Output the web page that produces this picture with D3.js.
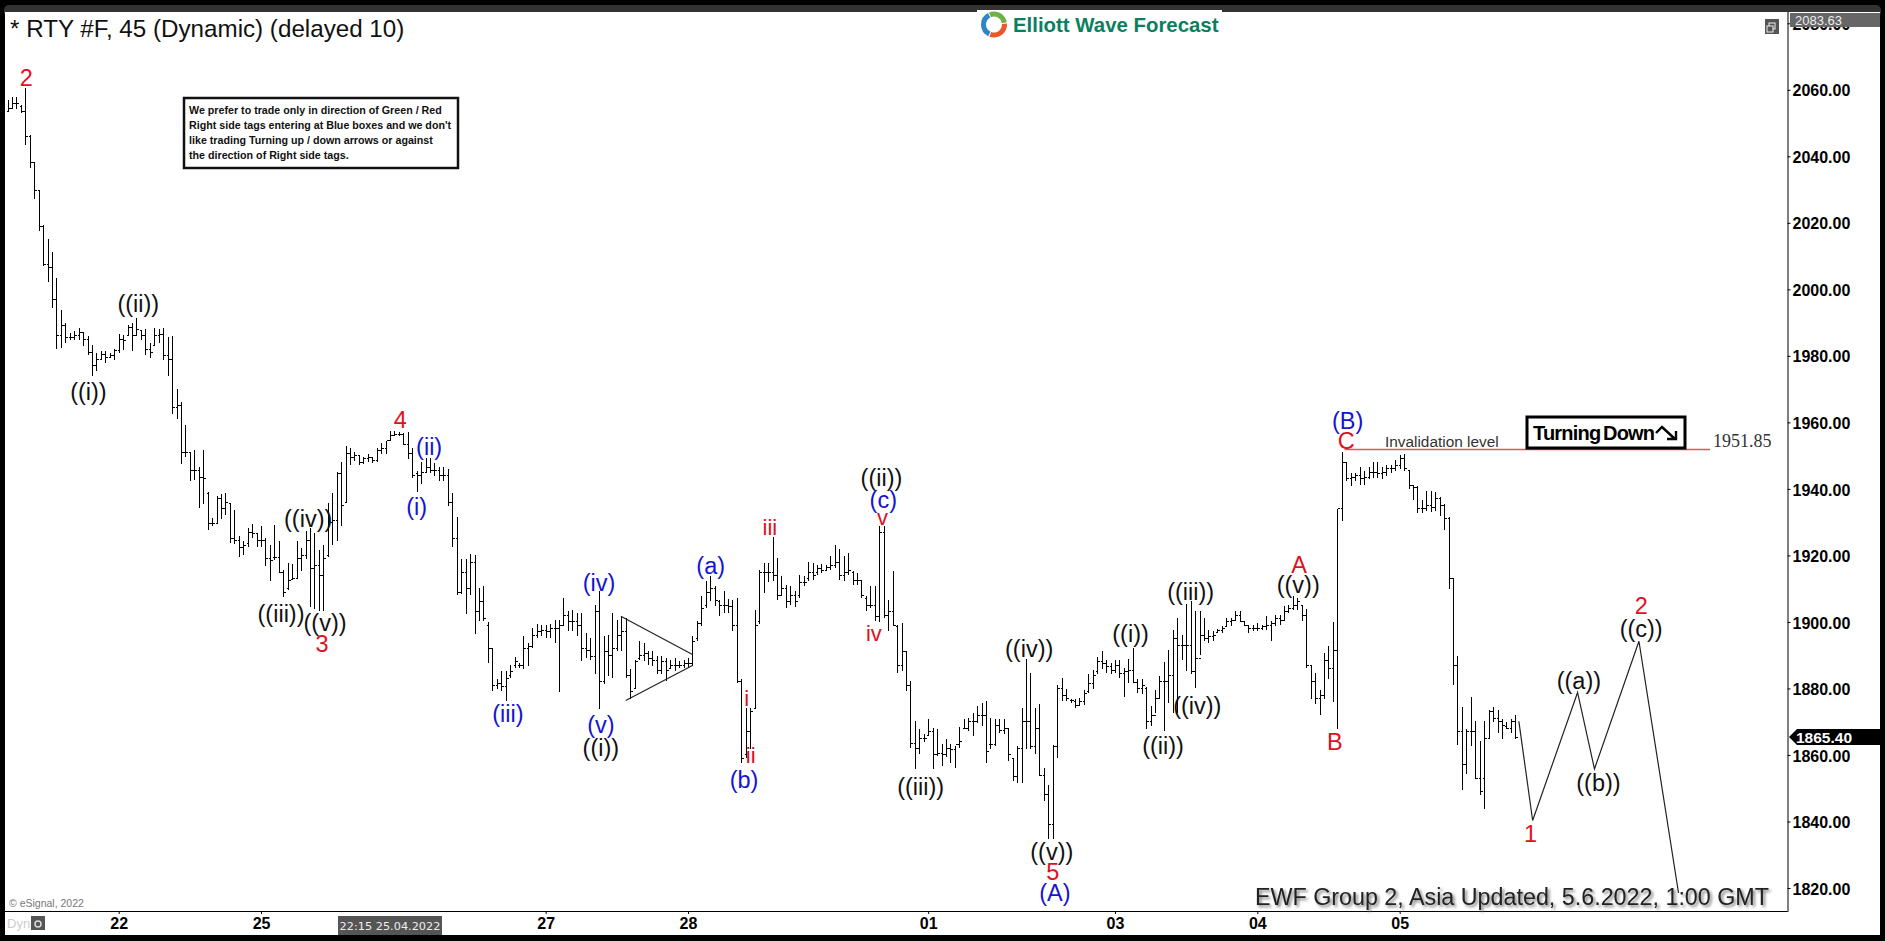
<!DOCTYPE html>
<html>
<head>
<meta charset="utf-8">
<script src="https://cdn.jsdelivr.net/npm/d3@7"></script>
<style>
  html, body { margin: 0; padding: 0; background: #000; overflow: hidden; }
  text { font-family: "Liberation Sans", Arial, sans-serif; }
</style>
</head>
<body>
<svg id="chart" width="1885" height="941"></svg>
<script>
// 45 minute OHLC bars
const highs = [2057,2057.9,2057.9,2055.4,2060.4,2046.4,2038.2,2029.9,2019.2,2015.2,2011.2,2003.4,1993.9,1989.9,1986.9,1987.4,1988.4,1987.1,1986.1,1983.4,1980.9,1981.4,1981.4,1980.9,1982.1,1986.7,1986.4,1989.4,1989.9,1991.4,1987.9,1988.1,1983.9,1988.4,1988.1,1988.4,1985.7,1985.9,1969.9,1966.2,
  1959.2,1951.1,1951.7,1946.5,1951.7,1939.2,1931.4,1937.9,1938.5,1938.7,1935.8,1933.8,1925.9,1924.2,1928.3,1929.4,1926.8,1928.8,1925.2,1923.1,1929.1,1924.2,1915.7,1917.7,1917.4,1924.2,1922.1,1927.3,1928.1,1926.8,
  1921.6,1923.1,1935.8,1938.9,1945.1,1948.2,1952.9,1952.4,1951.1,1950.3,1949.6,1950.6,1949.6,1952.2,1953.7,1954.5,1957.4,1957.4,1957.1,1956.9,1957.2,1952.2,1945.4,1948.2,1949.3,1949.3,1947.8,1946.5,1946.5,1946,
  1938.7,1931.6,1918.8,1919,1920.3,1920.2,1910.2,1910.9,1899.9,1892,1882.7,1885.2,1885.2,1887.2,1889.5,1887.7,1895.7,1893.7,1898.2,1899.5,1899.2,1899.2,1899.5,1900.7,1900.7,1907.2,1903.2,1903.7,1902.7,1902.7,
  1896.7,1895.2,1905.2,1909.2,1895.7,1896.2,1902.7,1900.7,1901.7,1901.2,1885.7,1888.7,1894.2,1893.7,1891.2,1891.2,1889.7,1889.7,1889.2,1888.7,1889.2,1888.2,1888.7,1889.2,1895.7,1900.2,1907.7,1912.2,1913.7,1910.7,
  1906.7,1909.2,1906.9,1906.7,1907.2,1882.7,1874.2,1874.2,1903.7,1915.7,1917.7,1917.7,1925.5,1919.2,1913.7,1911.2,1910.7,1909.2,1914.2,1913.7,1917.9,1917.7,1917.2,1917.5,1917.2,1919.7,1923.2,1921.9,1919.7,1920.7,
  1915.2,1914.7,1912.7,1907.7,1910.7,1910.7,1928.7,1928.7,1906.7,1915.2,1899.2,1899.7,1891.4,1882.2,1870.2,1867.9,1866.2,1870.7,1868.2,1867.9,1863.2,1864.9,1863.2,1862.7,1868.5,1870.7,1871.2,1872.7,1874.7,1875.5,
  1876.2,1871.2,1870.7,1870.7,1870.7,1868.2,1859.2,1862.7,1874.2,1888.9,1884.7,1874.2,1875.2,1856.2,1850.9,1862.9,1880.9,1883.2,1879.7,1876.9,1876.9,1877.2,1879.5,1884.2,1885.5,1889.5,1891.2,1888.7,1887.7,1888.7,
  1888.5,1886.2,1888.9,1892.2,1882.7,1882.7,1880.5,1874.7,1879.5,1883.7,1887.9,1891.7,1897.7,1901.2,1896.2,1905.5,1906.2,1903.2,1903.2,1901.2,1897.5,1897.2,1897.9,1898.7,1901.2,1901.2,1903.2,1903.2,1900.2,1899.2,
  1899.2,1899.7,1899.2,1901.7,1900.2,1902.2,1902.2,1904.7,1905.2,1907.9,1907.2,1905.2,1903.9,1887.2,1884.5,1879.5,1890.7,1892.7,1900,1934,1951.2,1948,1944.9,1944.9,1946.5,1945.5,1946.5,1948,1948.2,1946.5,
  1947.2,1947.2,1948.6,1950.3,1950.6,1945.5,1941,1941,1936.6,1939.5,1939.5,1939.2,1937.7,1935.6,1931.5,1913,1889.8,1874.3,1867.7,1877.4,1870.3,1864.3,1870.3,1873.4,1874.5,1873.6,1870.8,1869.8,1870.8,1871.9];
const lows = [2053.4,2054.4,2054.2,2052.9,2043.4,2036.4,2027.1,2017.4,2007.1,2002.1,1994.4,1982.1,1982.4,1983.9,1984.7,1984.9,1984.9,1983.1,1980.4,1973.9,1975.4,1978.9,1977.9,1979.4,1978.9,1980.9,1981.9,1985.9,1981.4,1985.9,1984.9,1980.4,1979.4,1982.9,1983.9,1978.9,1973.9,1962.6,1961,1947.5,
  1949.6,1942.3,1942.8,1934.3,1935.4,1927.5,1928.8,1929.4,1930.9,1932.2,1923.6,1923.3,1919.5,1920.2,1922.6,1925.2,1922.6,1922.6,1916.9,1912.2,1918.5,1914.8,1907.4,1909.7,1912.8,1912.8,1915.4,1919,1904.5,1904,
  1903.4,1903.2,1919.5,1923.1,1924.2,1928.8,1935.8,1947.2,1948.5,1947.2,1947.5,1948,1947.8,1948,1950.6,1950.6,1954.5,1955.8,1956,1953.2,1948.9,1943.4,1939.2,1941.6,1944.9,1944.9,1943.9,1942.3,1942.3,1934.8,
  1922.6,1908.1,1908.4,1902.4,1908.1,1896.4,1900.3,1900.2,1887.7,1879.2,1879.7,1879.2,1876.2,1883.2,1886.2,1886.2,1885.7,1886.7,1892.2,1895.2,1895.7,1895.2,1895.2,1893.7,1878.9,1898.7,1897.2,1897.2,1895.7,1888.2,
  1889.2,1888.7,1884.2,1873.7,1881.2,1883.7,1883.2,1891.2,1891.2,1883.2,1876.7,1879.7,1888.7,1888.2,1887.2,1886.7,1884.2,1884.2,1882.2,1885.7,1885.2,1886.2,1886.2,1886.2,1886.7,1894.2,1898.7,1904.2,1906.2,1904.7,
  1901.7,1902.7,1902.7,1897.2,1881.7,1857.7,1859.2,1861.7,1873.7,1899.5,1908.7,1911.9,1912.2,1906.7,1907.7,1904.2,1905.2,1904.5,1907.2,1910.7,1912.2,1912.7,1914.2,1914.7,1915.2,1915.7,1916.2,1912.7,1912.2,1914.2,
  1911.2,1911.2,1907.2,1903.2,1904.2,1900.2,1899.9,1901.2,1897.2,1898.7,1884.7,1885.2,1879.2,1862.2,1855.7,1860.2,1863.9,1865.7,1855.7,1859.7,1856.7,1859.5,1857.7,1856.2,1862.2,1867.7,1867.2,1865.7,1869.7,1868.7,
  1857.7,1861.7,1862.7,1866.7,1866.2,1858.2,1852.2,1851.7,1851.7,1861.7,1861.7,1860.2,1853.7,1846.2,1834.7,1834.7,1859.2,1876.2,1876.2,1875.7,1874.2,1874.9,1874.9,1878.7,1879.7,1884.2,1885.7,1884.5,1884.2,1884.5,
  1883.2,1877.5,1881.7,1881.7,1878.7,1878.2,1867.9,1868.7,1872.7,1876.7,1867.2,1875.7,1872.7,1872.7,1888.7,1885.2,1884.2,1880.2,1890.2,1894.2,1893.7,1894.2,1896.7,1896.7,1898.5,1898.7,1900.2,1899.9,1898.7,1896.7,
  1897.2,1897.2,1897.5,1897.7,1894.2,1898.7,1899.2,1900.2,1902.7,1903.7,1903.7,1900.2,1886.2,1876.7,1875.2,1871.9,1876.7,1882.7,1876,1867.7,1930.2,1942.3,1941,1942.3,1941.3,1941.3,1942.9,1943.4,1943.4,1943.1,
  1943.9,1944.9,1945.5,1946,1945.5,1940,1936.6,1932.7,1932.7,1933.5,1933,1933.3,1932,1927.5,1909.9,1880.9,1863.1,1849.6,1854.3,1862.6,1852.7,1848,1843.9,1865.1,1869.8,1866.7,1864.9,1867.7,1866.7,1864.9];
const opens = [2053.5,2054.5,2056,2055,2053.5,2046,2038,2029.7,2019,2007.5,2006.5,1997,1986,1989,1985.5,1985.5,1986,1987,1985,1981,1977,1979,1980.5,1979.5,1980,1981.5,1985,1986,1988.5,1986,1987.5,1986,1982,1983,1986,1986.5,1980,1979,1964.5,1965,
  1951,1951,1945.5,1945.5,1943.5,1938.5,1929.5,1929.5,1937,1934,1935.5,1925,1924.5,1922.5,1923.5,1927,1926.5,1924.5,1924.5,1919,1919.5,1919.5,1915,1910,1912.9,1913,1919,1920,1924.5,1916,
  1917,1914,1920,1930,1930.5,1944.5,1936,1950.5,1949.5,1950,1948,1949,1949.5,1948.5,1951.5,1952,1954.6,1956,1956.5,1956.3,1953.5,1950.5,1944.5,1944,1945,1946.5,1945.5,1945.5,1944,1944,
  1936,1925,1909,1915,1910,1918,1903,1906,1899,1892,1881,1881.5,1880.5,1884,1887,1887,1887,1892,1892.5,1896,1897,1897.5,1897,1898,1898,1899,1902,1900,1900,1899,
  1892,1891.5,1889.5,1903,1882,1891,1890,1892,1896,1897,1884,1880,1889,1890,1890.5,1889,1888.5,1885.5,1888,1886,1887,1887,1887,1887.5,1887.5,1895,1899.5,1905,1909,1910,
  1906,1905,1905,1904.5,1899,1882,1860,1867,1874,1900,1915,1915,1915,1914,1908,1910,1906,1908,1908,1912,1913,1915,1915,1916,1915.5,1916.5,1917,1918,1914,1915,
  1915,1912.5,1912.5,1907,1905,1905,1901.5,1927,1902,1903,1898.5,1887,1891,1881,1863.5,1862,1865,1866,1867,1860,1860.5,1860,1862,1861.5,1863,1868,1868,1870,1870,1872,
  1872,1863,1863,1869,1867.5,1868,1859,1853.5,1862,1870,1870,1862.5,1868,1853.8,1848,1839,1862.5,1880,1878,1876.5,1876,1875,1876,1879,1881.5,1885,1888,1887.5,1886.5,1885.5,
  1887,1884.5,1885,1885.5,1881.8,1880,1880,1870,1872,1877,1882,1882,1884,1895,1893,1893,1893,1885,1889,1896,1895,1895.5,1896.8,1897.5,1898.6,1900,1900.5,1902,1900,1899,
  1898,1898,1898,1898.5,1899,1899.5,1901,1900.5,1903,1904,1905,1905,1902,1887,1882,1877,1878,1888.5,1886,1891.5,1934,1948,1943,1943.5,1944,1943,1943.5,1945,1945,1944.5,
  1945,1946,1946,1947,1949,1945.5,1941,1940.5,1934,1934,1935,1934.5,1937,1935,1931,1913,1887,1867,1857,1867,1867,1853,1853,1865,1873,1871,1870,1868.5,1868,1870];
const closes = [2054.5,2056,2056,2053.5,2046,2038,2029.7,2019,2007.5,2006.5,1997,1986,1989,1985.5,1985.5,1986,1987,1985,1981,1977,1979,1980.5,1979.5,1980,1981.5,1985,1984.5,1988.5,1986,1988,1986,1982,1981,1986,1986.5,1980,1979,1964.5,1965,1951,
  1951,1945.5,1945.5,1943.5,1943,1929.5,1929.5,1937,1934,1936,1925,1924.5,1922.5,1923,1927,1926.7,1924.5,1924.5,1919,1918.5,1919.5,1915,1909,1912.5,1913,1919,1920,1924.5,1916,1917,
  1914,1919,1930,1930.5,1944.5,1935,1950.5,1949.5,1950,1948,1949,1949.5,1948.5,1951.5,1952,1954.5,1956,1956.5,1956.3,1953.5,1950.5,1944,1944,1945,1946.5,1945.5,1945.5,1944,1944,1936,
  1925,1909,1915,1910,1918,1903,1906,1901,1892,1881,1881.5,1880.5,1883,1885,1888,1887,1892,1892.5,1896,1897,1897.5,1897,1898,1898,1899,1902,1900,1900,1899,1892,
  1891.5,1889.5,1903,1882,1891,1890,1892,1896,1897,1884,1879,1888,1890,1890.5,1889,1888.5,1885.5,1888,1885.5,1887,1887,1887,1887.5,1887.5,1894,1899.5,1904,1909,1910,1906.5,
  1905,1905,1904.5,1899,1882,1859,1867,1873,1899,1915,1915,1915,1914,1908,1910,1906,1908,1906,1912,1912,1915,1914,1916,1915.5,1916.5,1917,1918,1914,1915,1915.5,
  1912.5,1912.5,1908,1905,1905,1901.5,1927,1902,1903,1899,1887,1891,1881,1863.5,1862,1865,1865,1867,1860,1860.5,1860,1862,1861.5,1863,1864,1868,1870,1870,1872,1872,
  1861,1863,1869,1867.5,1868,1860,1853.5,1862,1870,1870,1862.5,1868,1853.8,1848,1839,1862.5,1880,1878,1877,1876.5,1875,1876,1878.5,1881.5,1884,1888,1887.5,1886.5,1885.5,1887,
  1884.5,1885,1885.5,1881.8,1880,1881,1870,1872,1877,1882,1882,1884,1895,1893,1893,1893,1885,1889,1896,1895,1895.5,1896,1897.5,1898,1900,1900.5,1902,1900,1899,1898,
  1898,1898,1898.5,1899,1899.5,1901,1900.5,1903,1904,1905,1906,1902,1887,1882,1877,1878,1888.5,1886,1891.5,1934,1948,1943,1943.5,1944,1943,1943.5,1945,1945,1944.5,1945,
  1946,1946,1947,1949,1946,1941,1940.5,1934,1934,1935,1934.5,1937,1935,1931,1913,1887,1867,1857,1867,1867,1853,1849,1865,1873,1871,1870,1869,1868,1870,1865.4];

const priceTicks = [2080, 2060, 2040, 2020, 2000, 1980, 1960, 1940, 1920, 1900, 1880, 1860, 1840, 1820];
const dayBars = [25, 57, 121, 153, 207, 249, 281, 313];
const dayLabels = ['22', '25', '27', '28', '01', '03', '04', '05'];

// wave labels: text, bar position, price at the label centre
const redWaves = ['2', '3', '4', '5', 'A', 'B', 'C', '1', '2'];
const redBars = [4.2, 70.7, 88.3, 235, 290.4, 298.4, 301, 342.4, 367.3];
const redPrices = [2063.8, 1893.6, 1961, 1825, 1917.4, 1864, 1954.6, 1836.4, 1904.8];
const minorWaves = ['iii', 'i', 'ii', 'iv', 'v'];
const minorBars = [171.4, 166.2, 167.1, 194.8, 196.7];
const minorPrices = [1928.6, 1877.2, 1860, 1896.6, 1931.5];
const blueWaves = ['(i)', '(ii)', '(iii)', '(iv)', '(v)', '(a)', '(b)', '(c)', '(A)', '(B)'];
const blueBars = [92, 94.8, 112.5, 133, 133.4, 158.1, 165.6, 196.9, 235.5, 301.3];
const bluePrices = [1934.8, 1952.7, 1872.5, 1911.8, 1869, 1916.9, 1852.5, 1936.9, 1818.5, 1960.5];
const blackWaves = ['((i))', '((ii))', '((iii))', '((iv))', '((v))', '((i))', '((ii))', '((iii))', '((iv))', '((v))', '((i))', '((ii))', '((iii))', '((iv))', '((v))', '((a))', '((b))', '((c))'];
const blackBars = [18.2, 29.4, 61.5, 67.6, 71.4, 133.4, 196.5, 205.3, 229.7, 234.8, 252.5, 259.8, 266, 267.5, 290.2, 353.3, 357.7, 367.3];
const blackPrices = [1969.2, 1995.8, 1902.6, 1931.1, 1899.8, 1862.3, 1943.5, 1850.5, 1892, 1831, 1896.6, 1862.8, 1909, 1875, 1911.1, 1882.5, 1851.6, 1898];

// projected path and the triangle
const forecastBars = [339.8, 342.9, 353, 356.8, 366.8, 375.7];
const forecastPrices = [1870.1, 1840.3, 1878.8, 1855.8, 1894.2, 1818.5];
const triangleBars = [137.9, 154, 139];
const trianglePrices = [1901.7, 1890.2, 1876.4];
const triangleEndPrice = 1886.9;

const invalidation = 1951.85;
const lastPrice = 1865.4;
const topPrice = 2083.63;

const noteLines = [
    'We prefer to trade only in direction of Green / Red',
    "Right side tags entering at Blue boxes and we don't",
    'like trading Turning up / down arrows or against',
    'the direction of Right side tags.'
];

const svg = d3.select('#chart');
const x = d3.scaleLinear().domain([0, 339]).range([7.5, 1515.3]);
const y = d3.scaleLinear().domain([2060, 1820]).range([89.8, 888]);
const axisX = 1787.5;
const axisY = 911;

// frame
svg.append('rect').attr('width', 1885).attr('height', 941).attr('fill', '#000');
svg.append('rect').attr('x', 4).attr('y', 5).attr('width', 1877).attr('height', 12).attr('rx', 5).attr('fill', '#333');
svg.append('rect').attr('x', 5).attr('y', 12).attr('width', 1875).attr('height', 923).attr('fill', '#fff');
svg.append('rect').attr('x', 977).attr('y', 10).attr('width', 245).attr('height', 4).attr('fill', '#fff');

// axes
const xAxis = d3.axisBottom(x).tickValues(dayBars).tickSize(3).tickFormat((d, i) => dayLabels[i]);
const gx = svg.append('g').attr('transform', 'translate(0,' + axisY + ')').call(xAxis);
gx.select('.domain').attr('d', 'M5,0.5H' + axisX).attr('stroke', '#000');
gx.selectAll('text').attr('y', 7).attr('font-size', 16).attr('font-weight', 'bold').attr('fill', '#000')
    .style('font-family', '"Liberation Sans"');

const yAxis = d3.axisRight(y).tickValues(priceTicks).tickSize(3).tickFormat(d3.format('.2f'));
const gy = svg.append('g').attr('transform', 'translate(' + axisX + ',0)').call(yAxis);
gy.select('.domain').attr('d', 'M0.5,12V' + (axisY + 1)).attr('stroke', '#000');
gy.selectAll('text').attr('x', 5).attr('y', 1).attr('font-size', 16).attr('font-weight', 'bold').attr('fill', '#000')
    .style('font-family', '"Liberation Sans"');

// bars
const bars = svg.append('g').attr('stroke', '#000').attr('stroke-width', 1).attr('shape-rendering', 'crispEdges');
highs.forEach((h, i) => {
    const bx = Math.round(x(i)) + 0.5;
    bars.append('line').attr('x1', bx).attr('x2', bx).attr('y1', y(h)).attr('y2', y(lows[i]));
    bars.append('line').attr('x1', bx - 2).attr('x2', bx).attr('y1', y(opens[i])).attr('y2', y(opens[i]));
    bars.append('line').attr('x1', bx).attr('x2', bx + 2).attr('y1', y(closes[i])).attr('y2', y(closes[i]));
});

// triangle
const triLine = d3.line().x(d => x(d[0])).y(d => y(d[1]));
svg.append('path')
    .attr('d', triLine([[triangleBars[0], trianglePrices[0]], [triangleBars[1], trianglePrices[1]]]) +
        triLine([[triangleBars[2], trianglePrices[2]], [triangleBars[1], triangleEndPrice]]))
    .attr('fill', 'none').attr('stroke', '#222').attr('stroke-width', 1.2);

// forecast path
svg.append('path')
    .attr('d', triLine(forecastBars.map((b, i) => [b, forecastPrices[i]])))
    .attr('fill', 'none').attr('stroke', '#222').attr('stroke-width', 1.2);

// invalidation level
svg.append('line')
    .attr('x1', x(300.6)).attr('x2', x(382.8))
    .attr('y1', y(invalidation)).attr('y2', y(invalidation))
    .attr('stroke', '#e0555f').attr('stroke-width', 1.3);
svg.append('text').attr('x', 1441.8).attr('y', 447).attr('text-anchor', 'middle')
    .attr('font-size', 15.4).attr('fill', '#333').text('Invalidation level');
svg.append('text').attr('x', 1713).attr('y', 447)
    .attr('font-size', 18).attr('fill', '#333').style('font-family', '"Liberation Serif"').text('1951.85');

// wave labels
function waveLabels(names, barsPos, prices, color, size) {
    svg.append('g').selectAll('text').data(names).join('text')
        .attr('x', (d, i) => x(barsPos[i]))
        .attr('y', (d, i) => y(prices[i]))
        .attr('dy', '0.36em')
        .attr('text-anchor', 'middle')
        .attr('font-size', size)
        .attr('fill', color)
        .text(d => d);
}
waveLabels(blackWaves, blackBars, blackPrices, '#111', 23.5);
waveLabels(blueWaves, blueBars, bluePrices, '#1414d2', 23.5);
waveLabels(redWaves, redBars, redPrices, '#e01020', 23.5);
waveLabels(minorWaves, minorBars, minorPrices, '#e01020', 22);

// title
svg.append('text').attr('x', 10).attr('y', 37).attr('font-size', 24.2).attr('fill', '#111')
    .text('* RTY #F, 45 (Dynamic) (delayed 10)');

// note box
svg.append('rect').attr('x', 184).attr('y', 98).attr('width', 274).attr('height', 70)
    .attr('fill', '#fff').attr('stroke', '#111').attr('stroke-width', 2.5);
svg.append('g').selectAll('text').data(noteLines).join('text')
    .attr('x', 189)
    .attr('y', (d, i) => 114 + i * 15)
    .attr('font-size', 10.7).attr('font-weight', 'bold').attr('fill', '#111')
    .text(d => d);

// logo
const logoArc = d3.arc().innerRadius(8).outerRadius(13);
const logo = svg.append('g').attr('transform', 'translate(994,24.5)');
logo.append('path').attr('d', logoArc({ startAngle: -0.4, endAngle: 1.4 })).attr('fill', '#6fb04a');
logo.append('path').attr('d', logoArc({ startAngle: 1.5, endAngle: 3.5 })).attr('fill', '#e8572a');
logo.append('path').attr('d', logoArc({ startAngle: 3.6, endAngle: 5.8 })).attr('fill', '#2f86c5');
svg.append('text').attr('x', 1013).attr('y', 31.5).attr('font-size', 20.4).attr('font-weight', 'bold')
    .attr('fill', '#0b7f5e').text('Elliott Wave Forecast');

// turning down box
svg.append('rect').attr('x', 1527).attr('y', 417).attr('width', 158).attr('height', 31)
    .attr('fill', '#fff').attr('stroke', '#000').attr('stroke-width', 3);
svg.append('text').attr('x', 1533).attr('y', 440).attr('font-size', 20).attr('font-weight', 'bold')
    .attr('letter-spacing', -0.8).attr('fill', '#000').text('Turning');
svg.append('text').attr('x', 1603).attr('y', 440).attr('font-size', 20).attr('font-weight', 'bold')
    .attr('letter-spacing', -0.8).attr('fill', '#000').text('Down');
svg.append('path').attr('d', 'M1656,433L1662,427L1675,439M1667,439H1676V431')
    .attr('fill', 'none').attr('stroke', '#000').attr('stroke-width', 2.4);

// footer text
svg.append('text').attr('x', 1769).attr('y', 905).attr('text-anchor', 'end').attr('font-size', 23.3)
    .attr('fill', '#222').style('filter', 'drop-shadow(2px 2px 1.5px #777)')
    .text('EWF Group 2, Asia Updated, 5.6.2022, 1:00 GMT');
svg.append('text').attr('x', 9).attr('y', 906.5).attr('font-size', 10.5).attr('fill', '#777').text('© eSignal, 2022');
svg.append('text').attr('x', 7).attr('y', 928).attr('font-size', 13).attr('fill', '#ccc').text('Dyn');
svg.append('rect').attr('x', 31).attr('y', 916).attr('width', 14).attr('height', 14).attr('fill', '#555');
svg.append('circle').attr('cx', 38).attr('cy', 924).attr('r', 3).attr('fill', 'none').attr('stroke', '#ddd').attr('stroke-width', 1.5);

// crosshair date tag
svg.append('rect').attr('x', 338).attr('y', 916).attr('width', 104).attr('height', 19).attr('fill', '#555');
svg.append('text').attr('x', 390).attr('y', 930).attr('text-anchor', 'middle').attr('font-size', 11.3)
    .attr('fill', '#eee').style('font-family', '"DejaVu Sans"').text('22:15 25.04.2022');

// window icon
svg.append('rect').attr('x', 1765).attr('y', 19).attr('width', 14).attr('height', 15).attr('fill', '#555');
svg.append('rect').attr('x', 1769).attr('y', 23).attr('width', 6).attr('height', 6).attr('fill', 'none').attr('stroke', '#eee');
svg.append('rect').attr('x', 1767).attr('y', 26).attr('width', 6).attr('height', 6).attr('fill', '#555').attr('stroke', '#eee');

// price tags on the right axis
svg.append('rect').attr('x', 1790).attr('y', 13).attr('width', 90).attr('height', 14).attr('fill', '#666');
svg.append('text').attr('x', 1795).attr('y', 25).attr('font-size', 13).attr('fill', '#eee').text(d3.format('.2f')(topPrice));
svg.append('path')
    .attr('d', 'M1789,' + y(lastPrice) + 'L1797,' + (y(lastPrice) - 8) + 'H1880V' + (y(lastPrice) + 8) + 'H1797Z')
    .attr('fill', '#000');
svg.append('text').attr('x', 1796).attr('y', y(lastPrice) + 5.5).attr('font-size', 15.5).attr('font-weight', 'bold')
    .attr('fill', '#fff').text(d3.format('.2f')(lastPrice));
</script>
</body>
</html>
